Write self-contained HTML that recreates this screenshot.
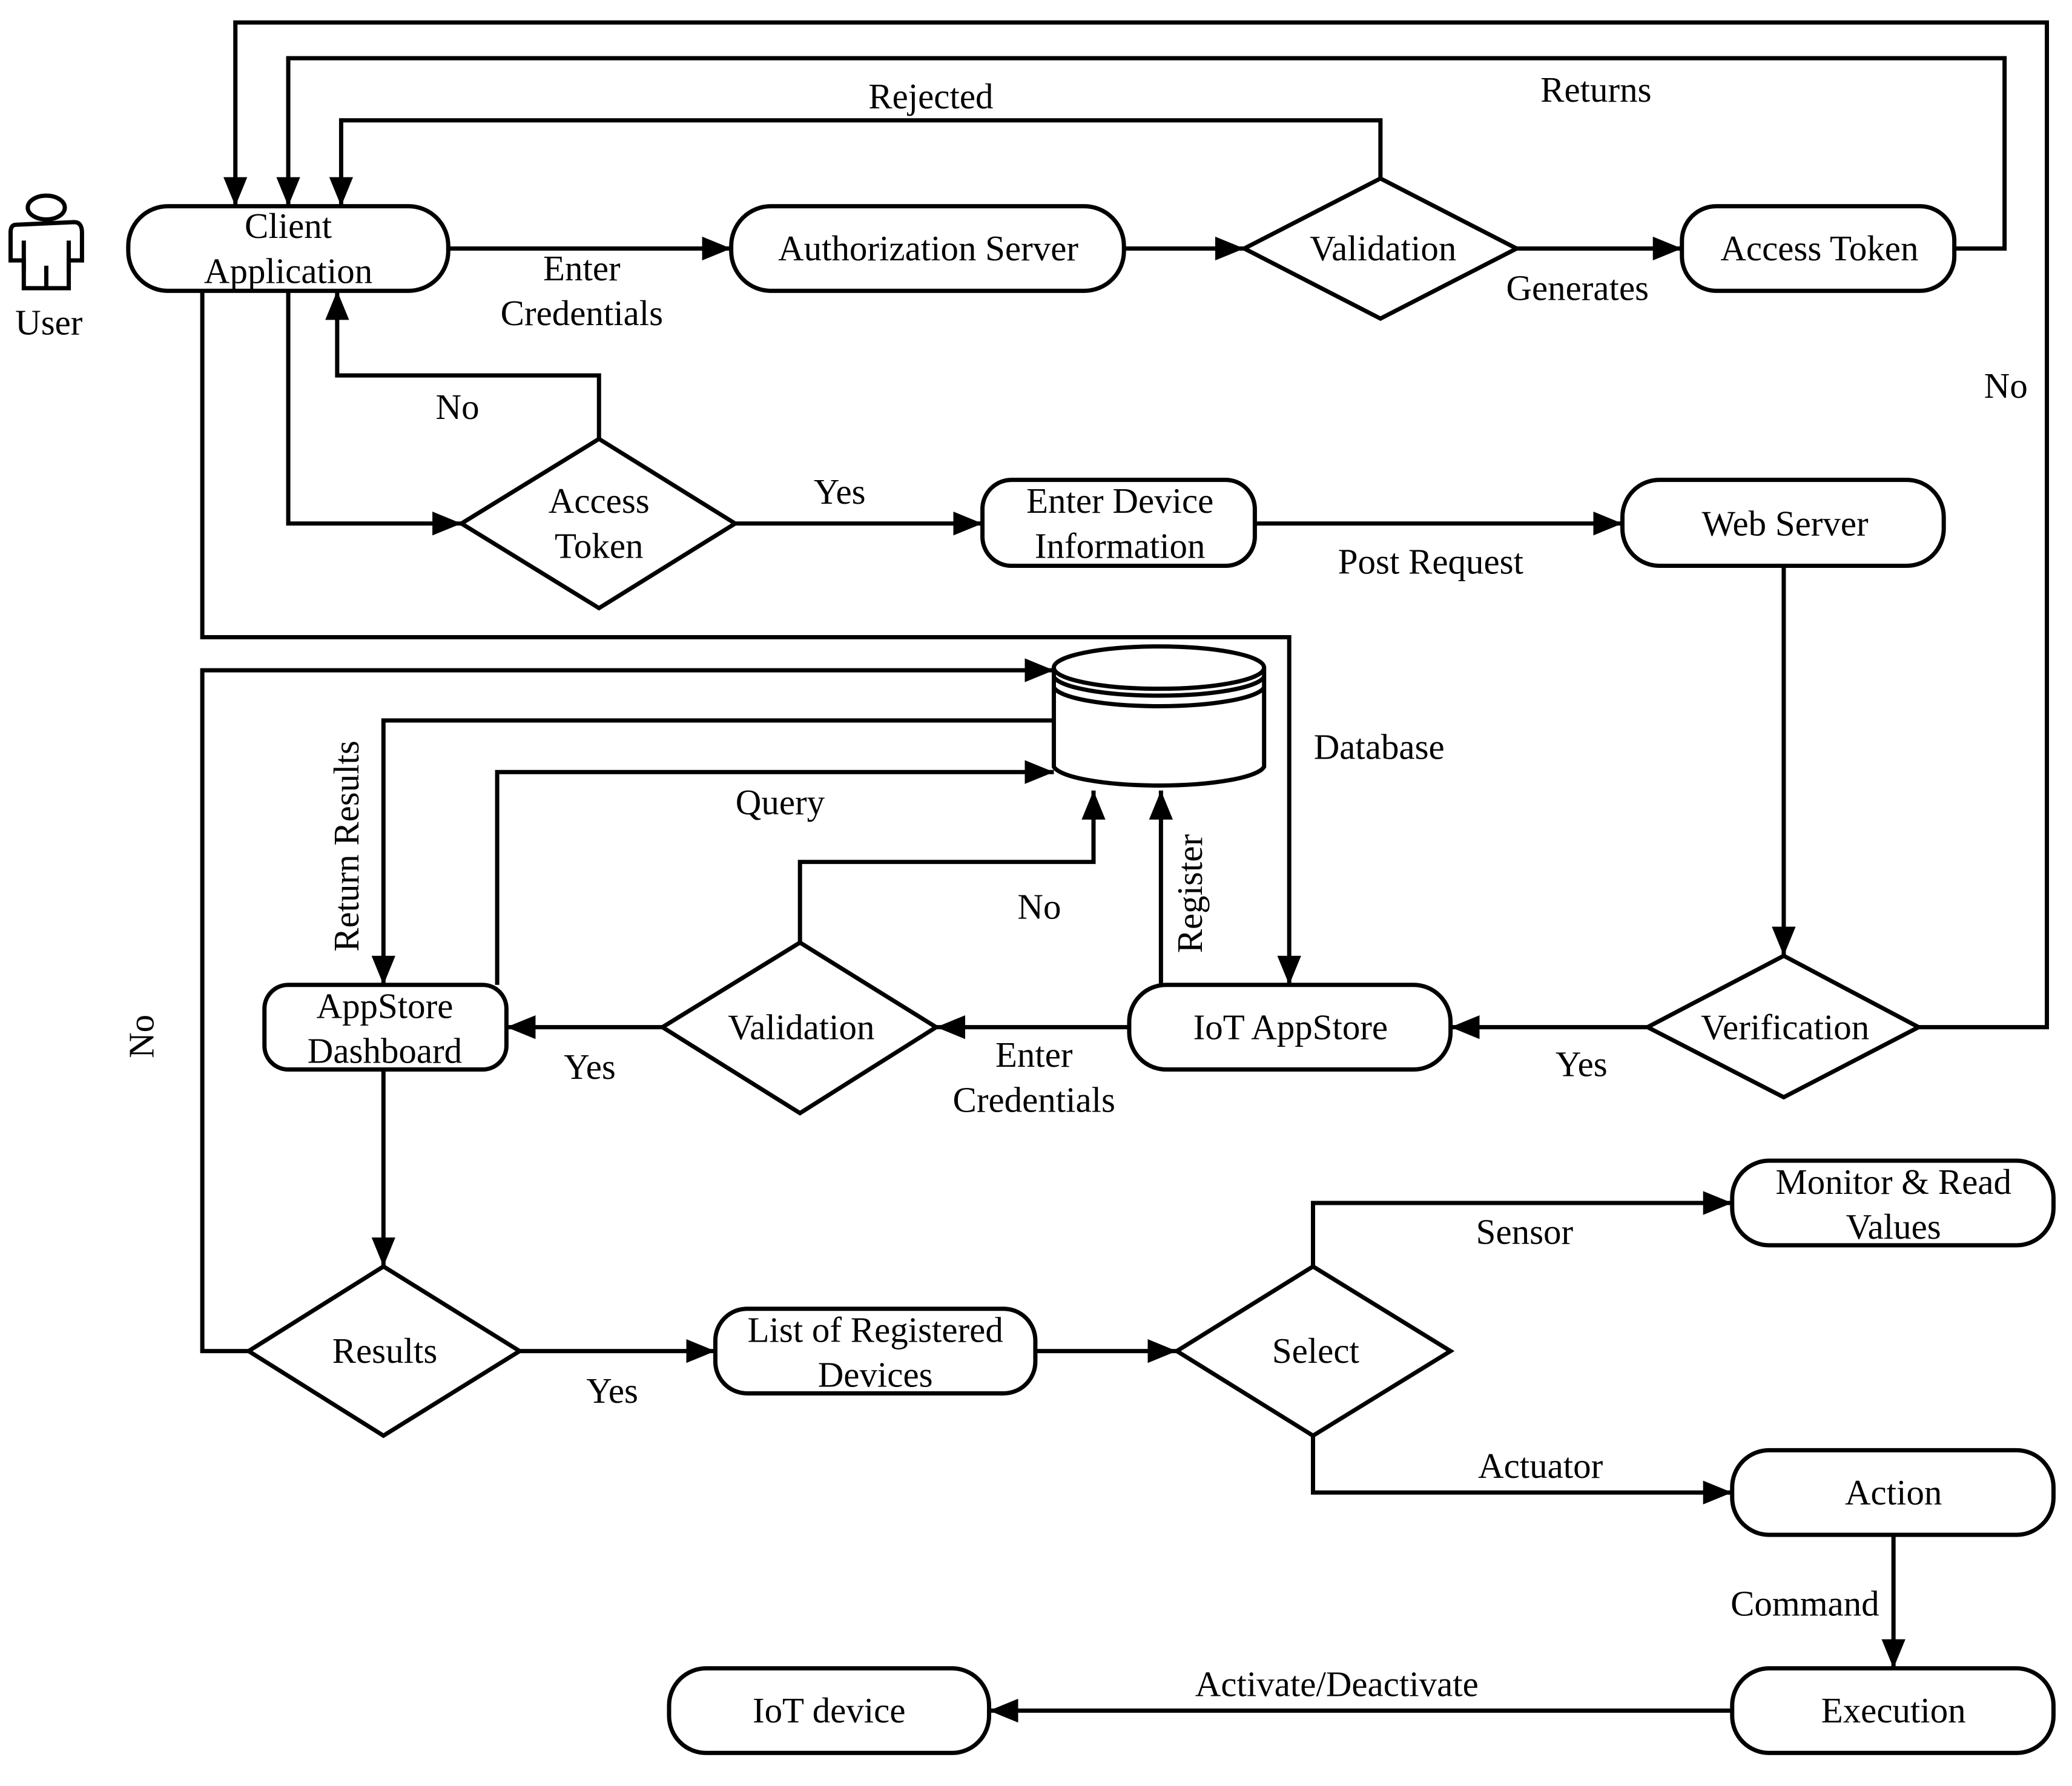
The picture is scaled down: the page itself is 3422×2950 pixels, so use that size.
<!DOCTYPE html>
<html><head><meta charset="utf-8"><style>
html,body{margin:0;padding:0;background:#fff;}
svg{display:block;}
text{font-family:"Liberation Serif",serif;font-size:27px;fill:#000;}
</style></head><body>
<svg width="3422" height="2950" viewBox="0 0 1567 1351" preserveAspectRatio="none" xmlns="http://www.w3.org/2000/svg">
<defs>
<marker id="a" markerUnits="userSpaceOnUse" markerWidth="24" markerHeight="20" refX="22" refY="9" orient="auto">
<path d="M0,0 L22,9 L0,18 Z" fill="#000"/>
</marker>
</defs>
<g fill="none" stroke="#000" stroke-width="3.2">
<ellipse cx="35" cy="157" rx="14" ry="9" fill="#fff"/>
<path d="M12,170 Q8,170 8,176 L8,197 L18,197 L18,202 L18,218 L52,218 L52,197 L62,197 L62,176 Q62,168 56,168 Z" fill="#fff"/>
<line x1="18" y1="182" x2="18" y2="205"/>
<line x1="52" y1="182" x2="52" y2="205"/>
<line x1="35" y1="201" x2="35" y2="218"/>
<rect x="97" y="156" width="242" height="64" rx="30" fill="#fff"/>
<rect x="553" y="156" width="297" height="64" rx="30" fill="#fff"/>
<polygon points="941,188 1044,135 1147,188 1044,241" fill="#fff"/>
<rect x="1272" y="156" width="206" height="64" rx="26" fill="#fff"/>
<polygon points="349,396 453,332 556,396 453,460" fill="#fff"/>
<rect x="743" y="363" width="206" height="65" rx="22" fill="#fff"/>
<rect x="1227" y="363" width="243" height="65" rx="28" fill="#fff"/>
<polygon points="1246,777 1349,723 1451,777 1349,830" fill="#fff"/>
<rect x="854" y="745" width="243" height="64" rx="28" fill="#fff"/>
<polygon points="501,777 605,713 708,777 605,842" fill="#fff"/>
<rect x="200" y="745" width="183" height="64" rx="18" fill="#fff"/>
<polygon points="188,1022 290,958 393,1022 290,1086" fill="#fff"/>
<rect x="541" y="990" width="242" height="64" rx="24" fill="#fff"/>
<polygon points="890,1022 993,958 1097,1022 993,1086" fill="#fff"/>
<rect x="1310" y="878" width="243" height="64" rx="28" fill="#fff"/>
<rect x="1310" y="1097" width="243" height="64" rx="28" fill="#fff"/>
<rect x="1310" y="1262" width="243" height="64" rx="28" fill="#fff"/>
<rect x="506" y="1262" width="242" height="64" rx="28" fill="#fff"/>
<path d="M797,505 L797,580 A80,16 0 0 0 956,580 L956,505" fill="#fff"/>
<ellipse cx="876.5" cy="505" rx="79.5" ry="16" fill="#fff"/>
<path d="M797,512 A80,16 0 0 0 956,512"/>
<path d="M797,520 A80,16 0 0 0 956,520"/>
<polyline points="339,188 553,188" marker-end="url(#a)"/>
<polyline points="850,188 941,188" marker-end="url(#a)"/>
<polyline points="1147,188 1272,188" marker-end="url(#a)"/>
<polyline points="1044,135 1044,91 258,91 258,156" marker-end="url(#a)"/>
<polyline points="1478,188 1516,188 1516,44 218,44 218,156" marker-end="url(#a)"/>
<polyline points="1451,777 1548,777 1548,17 178,17 178,156" marker-end="url(#a)"/>
<polyline points="218,220 218,396 349,396" marker-end="url(#a)"/>
<polyline points="453,332 453,284 255,284 255,220" marker-end="url(#a)"/>
<polyline points="556,396 743,396" marker-end="url(#a)"/>
<polyline points="949,396 1227,396" marker-end="url(#a)"/>
<polyline points="1349,428 1349,723" marker-end="url(#a)"/>
<polyline points="1246,777 1097,777" marker-end="url(#a)"/>
<polyline points="153,220 153,482 975,482 975,745" marker-end="url(#a)"/>
<polyline points="854,777 708,777" marker-end="url(#a)"/>
<polyline points="501,777 383,777" marker-end="url(#a)"/>
<polyline points="605,713 605,652 827,652 827,598" marker-end="url(#a)"/>
<polyline points="878,745 878,598" marker-end="url(#a)"/>
<polyline points="376,745 376,584 797,584" marker-end="url(#a)"/>
<polyline points="797,545 290,545 290,745" marker-end="url(#a)"/>
<polyline points="188,1022 153,1022 153,507 797,507" marker-end="url(#a)"/>
<polyline points="290,809 290,958" marker-end="url(#a)"/>
<polyline points="393,1022 541,1022" marker-end="url(#a)"/>
<polyline points="783,1022 890,1022" marker-end="url(#a)"/>
<polyline points="993,958 993,910 1310,910" marker-end="url(#a)"/>
<polyline points="993,1086 993,1129 1310,1129" marker-end="url(#a)"/>
<polyline points="1432,1161 1432,1262" marker-end="url(#a)"/>
<polyline points="1310,1294 748,1294" marker-end="url(#a)"/>
</g>
<g text-anchor="middle">
<text x="37" y="253">User</text>
<text x="218" y="180">Client</text>
<text x="218" y="214">Application</text>
<text x="702" y="197">Authorization Server</text>
<text x="1046" y="197">Validation</text>
<text x="1376" y="197">Access Token</text>
<text x="440" y="212">Enter</text>
<text x="440" y="246">Credentials</text>
<text x="1193" y="227">Generates</text>
<text x="704" y="82">Rejected</text>
<text x="1207" y="77">Returns</text>
<text x="1517" y="301">No</text>
<text x="346" y="317">No</text>
<text x="453" y="388">Access</text>
<text x="453" y="422">Token</text>
<text x="635" y="381">Yes</text>
<text x="847" y="388">Enter Device</text>
<text x="847" y="422">Information</text>
<text x="1082" y="434">Post Request</text>
<text x="1350" y="405">Web Server</text>
<text x="1350" y="786">Verification</text>
<text x="1196" y="814">Yes</text>
<text x="976" y="786">IoT AppStore</text>
<text x="1043" y="574">Database</text>
<text x="782" y="807">Enter</text>
<text x="782" y="841">Credentials</text>
<text x="606" y="786">Validation</text>
<text x="446" y="816">Yes</text>
<text x="786" y="695">No</text>
<text x="590" y="616">Query</text>
<text x="291" y="770">AppStore</text>
<text x="291" y="804">Dashboard</text>
<text x="291" y="1031">Results</text>
<text x="463" y="1061">Yes</text>
<text x="662" y="1015">List of Registered</text>
<text x="662" y="1049">Devices</text>
<text x="995" y="1031">Select</text>
<text x="1153" y="941">Sensor</text>
<text x="1165" y="1118">Actuator</text>
<text x="1432" y="903">Monitor &amp; Read</text>
<text x="1432" y="937">Values</text>
<text x="1432" y="1138">Action</text>
<text x="1365" y="1222">Command</text>
<text x="1432" y="1303">Execution</text>
<text x="627" y="1303">IoT device</text>
<text x="1011" y="1283">Activate/Deactivate</text>
<text transform="translate(909,676) rotate(-90)">Register</text>
<text transform="translate(271,640) rotate(-90)">Return Results</text>
<text transform="translate(116,784) rotate(-90)">No</text>
</g>
</svg>
</body></html>
